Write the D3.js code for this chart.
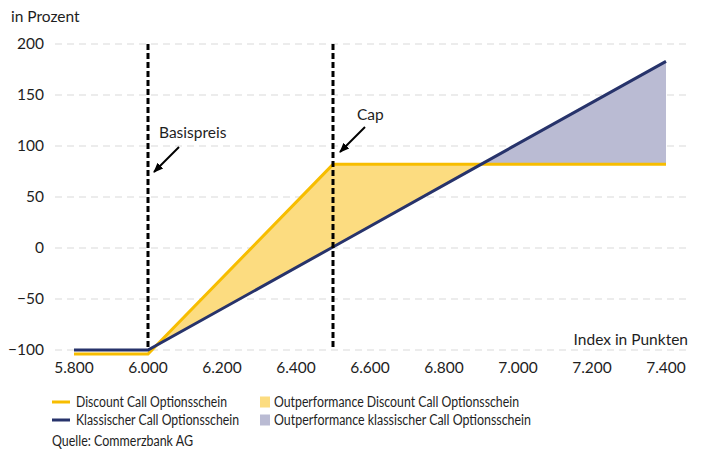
<!DOCTYPE html>
<html>
<head>
<meta charset="utf-8">
<script src="https://cdn.jsdelivr.net/npm/d3@7"></script>
<style>
  body { margin: 0; background: #fff; }
  svg text { font-family: Lato, "Open Sans", sans-serif; fill: #1e1e1e; }
</style>
</head>
<body>
<svg id="chart" width="703" height="449"></svg>
<script>
// Payoff profiles (index level in points, return in percent)
const indexLevels   = [5800, 6000, 6500, 6900, 7400];
const discountCall  = [-104, -104, 82, 82, 82];
const classicCall   = [-100, -100, 1, 82, 183];
const strike = 6000;
const cap = 6500;
const yTicks = [-100, -50, 0, 50, 100, 150, 200];
const xTicks = [5800, 6000, 6200, 6400, 6600, 6800, 7000, 7200, 7400];

const svg = d3.select("#chart");
const x = d3.scaleLinear().domain([5800, 7400]).range([74, 666]);
const y = d3.scaleLinear().domain([-100, 200]).range([350, 44]);
const fmt = d => d3.format(",")(d).replace(",", ".");
const fmtY = d => (d < 0 ? "\u2212" + Math.abs(d) : d);

const yellow = "#f7bd00", yellowFill = "#fcdc80";
const navy = "#27336b", navyFill = "#babbd3";
const fs = 15.5;

// gridlines
svg.append("g").selectAll("line").data(yTicks).join("line")
  .attr("x1", 55).attr("x2", 690)
  .attr("y1", d => y(d)).attr("y2", d => y(d))
  .attr("stroke", "#d9d9d9").attr("stroke-width", 1)
  .attr("stroke-dasharray", "7,5");

// y tick labels
svg.append("g").selectAll("text").data(yTicks).join("text")
  .attr("x", 44).attr("y", d => y(d)).attr("dy", "0.35em")
  .attr("text-anchor", "end").attr("font-size", fs).text(fmtY);

// x tick labels
svg.append("g").selectAll("text").data(xTicks).join("text")
  .attr("x", d => x(d)).attr("y", 373)
  .attr("text-anchor", "middle").attr("font-size", fs).text(fmt);

svg.append("text").attr("x", 11).attr("y", 22).attr("font-size", fs).text("in Prozent");
svg.append("text").attr("x", 688).attr("y", 345).attr("text-anchor", "end")
  .attr("font-size", fs).text("Index in Punkten");

// outperformance areas between the two payoff curves
const pts = indexLevels.map((v, i) => ({ v, d: discountCall[i], c: classicCall[i] }));
const seg1 = pts.filter(p => p.v >= strike && p.v <= 6900);
const seg2 = pts.filter(p => p.v >= 6900);
svg.append("path").datum(seg1)
  .attr("fill", yellowFill)
  .attr("d", d3.area().x(p => x(p.v)).y0(p => y(p.c)).y1(p => y(p.d)));
svg.append("path").datum(seg2)
  .attr("fill", navyFill)
  .attr("d", d3.area().x(p => x(p.v)).y0(p => y(p.d)).y1(p => y(p.c)));

// payoff lines
const line = key => d3.line().x(p => x(p.v)).y(p => y(p[key]));
svg.append("path").datum(pts).attr("fill", "none").attr("stroke", yellow)
  .attr("stroke-width", 3).attr("d", line("d"));
svg.append("path").datum(pts).attr("fill", "none").attr("stroke", navy)
  .attr("stroke-width", 3).attr("d", line("c"));

// strike and cap markers
[strike, cap].forEach(v => {
  svg.append("line").attr("x1", x(v)).attr("x2", x(v))
    .attr("y1", 44).attr("y2", 350)
    .attr("stroke", "#000").attr("stroke-width", 3).attr("stroke-dasharray", "6,3");
});

// annotation arrows
svg.append("defs").append("marker").attr("id", "arrow")
  .attr("viewBox", "0 0 10 10").attr("refX", 9).attr("refY", 5)
  .attr("markerWidth", 5).attr("markerHeight", 5).attr("orient", "auto")
  .append("path").attr("d", "M0,1 L10,5 L0,9 Z").attr("fill", "#000");

function note(label, tx, ty, x1, y1, x2, y2) {
  svg.append("text").attr("x", tx).attr("y", ty).attr("font-size", fs).text(label);
  svg.append("line").attr("x1", x1).attr("y1", y1).attr("x2", x2).attr("y2", y2)
    .attr("stroke", "#000").attr("stroke-width", 2).attr("marker-end", "url(#arrow)");
}
note("Basispreis", x(strike) + 11, 138, x(strike) + 31, 147, x(strike) + 6, 172);
note("Cap", x(cap) + 24, 120, x(cap) + 32, 127, x(cap) + 7, 152);

// legend (text widths fitted so the two columns stay apart)
const lg = svg.append("g").attr("font-size", 14.5);
const fitText = (sel, w) => sel.attr("textLength", w).attr("lengthAdjust", "spacingAndGlyphs");
[["Discount Call Optionsschein", yellow, 402, 151], ["Klassischer Call Optionsschein", navy, 420, 163]]
  .forEach(([t, c, yy, w]) => {
    lg.append("line").attr("x1", 52).attr("x2", 70).attr("y1", yy).attr("y2", yy)
      .attr("stroke", c).attr("stroke-width", 3);
    fitText(lg.append("text").attr("x", 76).attr("y", yy).attr("dy", "0.35em").text(t), w);
  });
[["Outperformance Discount Call Optionsschein", yellowFill, 402, 245],
 ["Outperformance klassischer Call Optionsschein", navyFill, 420, 257]]
  .forEach(([t, c, yy, w]) => {
    lg.append("rect").attr("x", 260).attr("y", yy - 5.5).attr("width", 10).attr("height", 11)
      .attr("fill", c);
    fitText(lg.append("text").attr("x", 274).attr("y", yy).attr("dy", "0.35em").text(t), w);
  });
fitText(lg.append("text").attr("x", 52).attr("y", 441).attr("dy", "0.35em")
  .text("Quelle: Commerzbank AG"), 141);
</script>
</body>
</html>
